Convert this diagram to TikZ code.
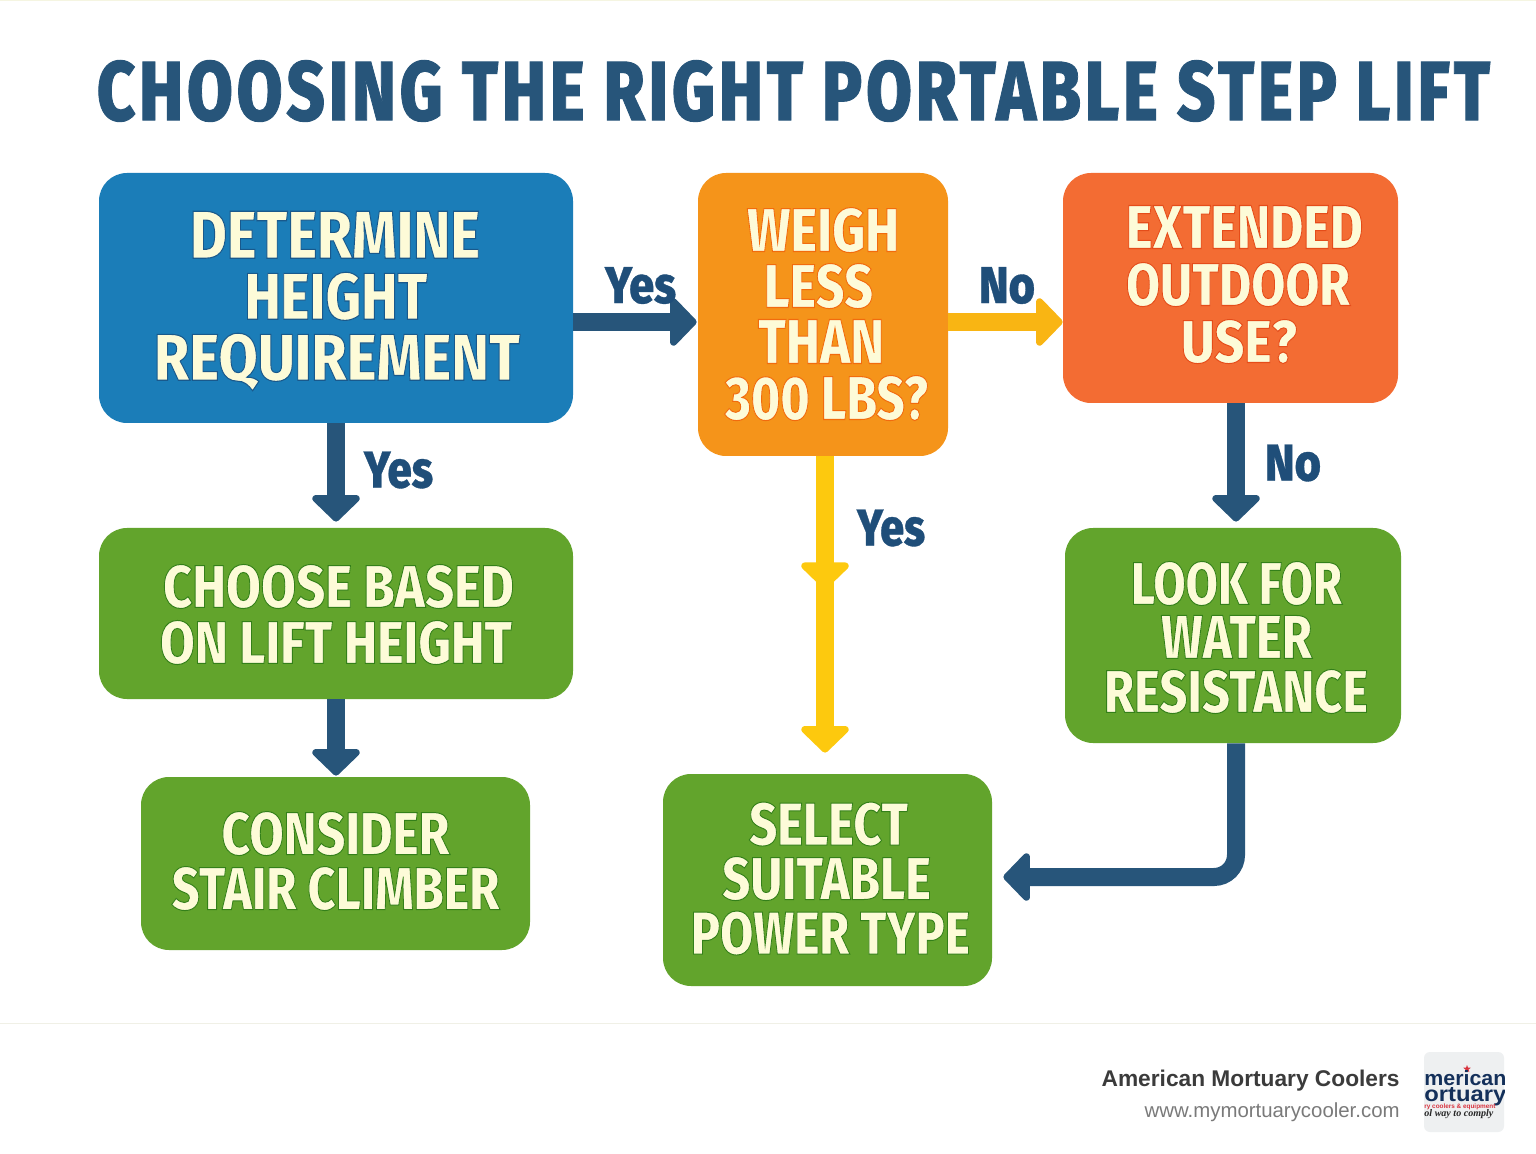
\documentclass[tikz,border=0pt]{standalone}
\usepackage{fontspec}
\usepackage{graphicx}
\usetikzlibrary{arrows.meta,shapes.geometric}
\setmainfont{Liberation Sans}
\newfontfamily\LNfont[BoldFont={* ExtraBold}]{Fira Sans}
\newfontfamily\LTfont[BoldFont={* ExtraBold},LetterSpace=6]{Fira Sans}
\newfontfamily\LBfont{Liberation Sans}
\newfontfamily\LSfont{Liberation Serif}
\definecolor{cream}{HTML}{FDFBD8}
\definecolor{navy}{HTML}{27557A}
\definecolor{labelblue}{HTML}{1F4E79}
\definecolor{bluebox}{HTML}{1B7DB8}
\definecolor{orangebox}{HTML}{F5941A}
\definecolor{redbox}{HTML}{F36C33}
\definecolor{greenbox}{HTML}{62A42C}
\definecolor{amber}{HTML}{F9B513}
\definecolor{gold}{HTML}{FDC90E}
\definecolor{logoback}{HTML}{EEF0F1}
\definecolor{logonavy}{HTML}{14305A}
\definecolor{logored}{HTML}{D8343F}
\newlength\LH
\newlength\LW
\def\OCol{0 0 0}
\def\OWid{0.5}
\def\TCol{cream}
\def\LSel{\LNfont}
% set cap height and leading (both in pixels of the reference)
\newcommand\setLH[2]{\setlength\LH{#1pt}\LH=.5\LH\setlength\baselineskip{#2pt}\baselineskip=.5\baselineskip\setlength\lineskip{0pt}\setlength\lineskiplimit{-100pt}}
% one line of text: optional x shift, width in pixels, text
\newcommand\LN[3][0]{\hspace*{#1pt}\setlength\LW{#2pt}\LW=.5\LW\resizebox{\LW}{\LH}{\color{\TCol}\special{pdf:code 2 Tr \OWid\space w \OCol\space RG}\fontsize{30}{30}\selectfont\LSel\bfseries #3\special{pdf:code 0 Tr}}}
\newcommand\UPs[1]{\rule[-#1pt]{0pt}{#1pt}}
\newcommand\DNs[1]{\rule{0pt}{\dimexpr\LH+#1pt\relax}}
\tikzset{
  flowbox/.style={rectangle,rounded corners=14pt,inner sep=0pt,align=center},
  bluestep/.style={flowbox,fill=bluebox},
  orangestep/.style={flowbox,fill=orangebox},
  redstep/.style={flowbox,fill=redbox},
  greenstep/.style={flowbox,fill=greenbox},
  titletext/.style={inner sep=0pt,font={\def\LSel{\LTfont}\def\TCol{navy}\def\OCol{0.153 0.333 0.478}\def\OWid{0.35}\setLH{60}{60}}},
  answer/.style={inner sep=0pt,font={\def\TCol{labelblue}\def\OCol{0.122 0.306 0.475}\def\OWid{0.2}\setLH{36}{36}}},
  conn/.style={line width=9pt,-{Triangle[length=14pt,width=28pt,line width=3.5pt,round]}},
  navyconn/.style={conn,draw=navy,color=navy},
  amberconn/.style={conn,draw=amber,color=amber},
  goldconn/.style={conn,draw=gold,color=gold},
}
\begin{document}
\begin{tikzpicture}[x=0.5pt,y=-0.5pt]
\useasboundingbox (0,0) rectangle (1536,1154);
\fill[white] (0,0) rectangle (1536,1154);
\coordinate (topl) at (0,0.5); \coordinate (topr) at (1536,0.5);
\coordinate (footl) at (0,1023.5); \coordinate (footr) at (1536,1023.5);
\draw[draw={rgb,255:red,245;green,245;blue,225},line width=0.6pt] (topl) -- (topr);
\draw[draw={rgb,255:red,240;green,240;blue,230},line width=0.5pt] (footl) -- (footr);

\node[titletext] (title) at (793.5,91) {\LN{1393}{CHOOSING THE RIGHT PORTABLE STEP LIFT}};

\node[bluestep,minimum width=237pt,minimum height=125pt,font={\def\OCol{0.1 0.35 0.55}\setLH{47}{61}}] (b1) at (336,298)
  {\DNs{3}\LN[-1]{290}{DETERMINE}\\\LN{183}{HEIGHT}\\\LN[1]{366}{REQUIREMENT}};
\node[orangestep,minimum width=125pt,minimum height=141.5pt,font={\def\OCol{0.95 0.42 0.05}\setLH{44}{56}}] (b2) at (823,314.5)
  {\LN{152}{WEIGH}\\\LN[-4.5]{109}{LESS}\\\LN[-2]{126}{THAN}\\\UPs{1}\LN[3.5]{203}{300 LBS?}};
\node[redstep,minimum width=167.5pt,minimum height=115pt,font={\def\OCol{0.9 0.3 0.1}\setLH{43}{57}}] (b3) at (1230.5,288)
  {\LN[14]{237}{EXTENDED}\\\LN[7.5]{224}{OUTDOOR}\\\UPs{4}\LN[8.5]{116}{USE?}};
\node[greenstep,minimum width=237pt,minimum height=85.5pt,font={\def\OCol{0.2 0.5 0.1}\setLH{43}{56}}] (b4) at (336,613.5)
  {\DNs{1}\LN[2.5]{351}{CHOOSE BASED}\\\LN{352}{ON LIFT HEIGHT}};
\node[greenstep,minimum width=194.5pt,minimum height=86.5pt,font={\def\OCol{0.2 0.5 0.1}\setLH{43}{55}}] (b5) at (335.5,863.5)
  {\LN{228}{CONSIDER}\\\UPs{3}\LN{328}{STAIR CLIMBER}};
\node[greenstep,minimum width=168pt,minimum height=107.5pt,font={\def\OCol{0.2 0.5 0.1}\setLH{43}{54}}] (b6) at (1233,635.5)
  {\DNs{2}\LN[3.5]{211}{LOOK FOR}\\\LN[3.5]{151}{WATER}\\\LN[3]{264}{RESISTANCE}};
\node[greenstep,minimum width=164.5pt,minimum height=106pt,font={\def\OCol{0.2 0.5 0.1}\setLH{43}{54.5}}] (b7) at (827.5,880)
  {\LN[1]{159}{SELECT}\\\LN[-1]{209}{SUITABLE}\\\UPs{2}\LN[3]{279}{POWER TYPE}};

\coordinate (y322) at (0,322);
\coordinate (x1236) at (1236,0);
\coordinate (x825) at (825,0);
\coordinate (midtip) at (825,589);
\coordinate (elbow) at (1236,877);

\draw[navyconn,shorten >=0.5pt] (b1.east |- y322) -- (b2.west |- y322);
\draw[amberconn,shorten >=0pt] (b2.east |- y322) -- (b3.west |- y322);
\draw[navyconn,shorten >=3pt] (b1.south) -- (b1.south |- b4.north);
\draw[navyconn,shorten >=0.5pt] (b4.south -| b1.south) -- (b5.north -| b1.south);
\draw[goldconn] (x825 |- b2.south) -- (midtip);
\draw[goldconn,shorten >=10.5pt] (x825 |- b2.south) -- (x825 |- b7.north);
\draw[navyconn,shorten >=3pt] (x1236 |- b3.south) -- (x1236 |- b6.north);
\draw[navyconn,rounded corners=11pt,shorten >=5.5pt] (x1236 |- b6.south) -- (elbow) -- (b7.east |- elbow);

\node[answer] (yes1) at (640.5,285.5) {\LN{71}{Yes}};
\node[answer] (no1) at (1007,285.5) {\LN{56}{No}};
\node[answer] (yes2) at (398.5,470) {\LN{69}{Yes}};
\node[answer] (no2) at (1293,463) {\LN{56}{No}};
\node[answer] (yes3) at (891,528) {\LN{68}{Yes}};

\node[anchor=base east,inner sep=0pt,text=black!77] (brand) at (1400,1086)
  {\resizebox{149pt}{!}{\fontsize{12}{14}\selectfont\LBfont\bfseries American Mortuary Coolers}};
\node[anchor=base east,inner sep=0pt,text=black!52] (site) at (1400,1117)
  {\resizebox{127.5pt}{!}{\fontsize{10.5}{13}\selectfont\LBfont www.mymortuarycooler.com}};

\node[rectangle,rounded corners=3pt,fill=logoback,minimum width=40pt,minimum height=40pt,inner sep=0pt] (logo) at (1464,1092) {};
\begin{scope}
\clip[rounded corners=3pt] (1424,1052) rectangle (1504,1132);
\node[star,star points=5,star point ratio=2.4,fill=logored,inner sep=0pt,minimum size=4pt] (logostar) at (1467,1069) {};
\node[anchor=base west,inner sep=0pt,text=logonavy] (logo1) at (1424,1085) {\resizebox{41pt}{7.5pt}{\fontsize{10.5}{11}\selectfont\LBfont\bfseries merican}};
\node[anchor=base west,inner sep=0pt,text=logonavy] (logo2) at (1424,1101) {\resizebox{41pt}{7pt}{\fontsize{11}{12}\selectfont\LBfont\bfseries ortuary}};
\node[anchor=base west,inner sep=0pt,text=logored] (logo3) at (1424,1108.5) {\resizebox{35.5pt}{!}{\fontsize{4}{5}\selectfont\LBfont\bfseries ry coolers \& equipment}};
\node[anchor=base west,inner sep=0pt,text=black!85] (logo4) at (1424,1116.5) {\resizebox{34.5pt}{!}{\fontsize{5}{6}\selectfont\LSfont\bfseries\itshape ol way to comply}};
\end{scope}
\end{tikzpicture}
\end{document}
